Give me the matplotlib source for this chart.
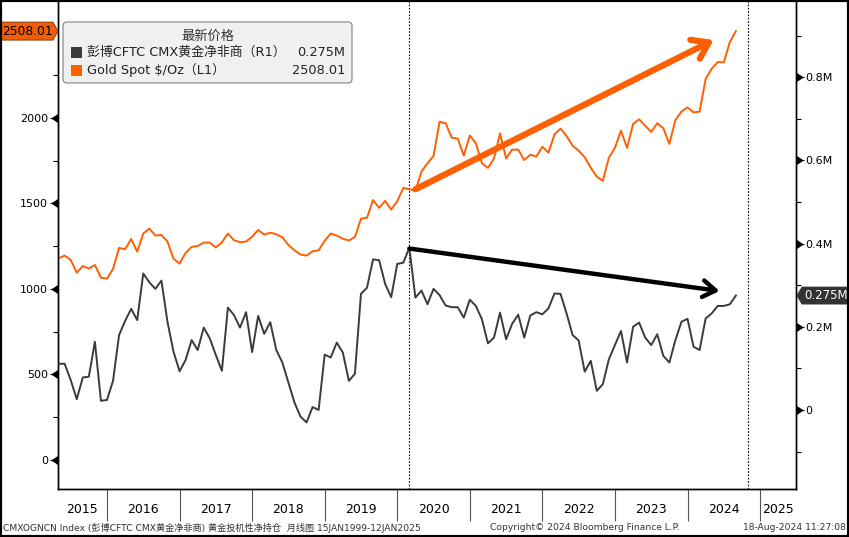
import matplotlib
matplotlib.use("Agg")
import matplotlib.pyplot as plt
import matplotlib.transforms as mtransforms
from matplotlib.patches import FancyBboxPatch, Rectangle, Polygon
from matplotlib.ticker import FixedLocator, FixedFormatter, NullFormatter

W, H = 849, 537
ORANGE = "#ff5f00"
DARK = "#3b3b3b"
CJK = ["DejaVu Sans", "Noto Sans CJK SC"]

# monthly closes, first one is end of Apr 2015, last one Aug 2024
START_YEAR, START_MONTH = 2015, 4

gold_spot = [
    1179, 1195, 1170, 1095, 1134, 1119, 1140, 1066, 1060,
    1117, 1240, 1232, 1292, 1218, 1324, 1353, 1312, 1316, 1277, 1177, 1148,
    1211, 1246, 1251, 1271, 1271, 1242, 1273, 1324, 1285, 1273, 1277, 1306,
    1345, 1318, 1329, 1320, 1302, 1257, 1226, 1201, 1195, 1220, 1226, 1281,
    1324, 1312, 1294, 1283, 1304, 1411, 1417, 1520, 1474, 1515, 1464, 1513,
    1591, 1583, 1575, 1686, 1735, 1778, 1978, 1969, 1885, 1879, 1780, 1897,
    1852, 1735, 1708, 1764, 1910, 1764, 1815, 1815, 1754, 1785, 1774, 1832,
    1797, 1904, 1938, 1895, 1838, 1809, 1770, 1709, 1657, 1632, 1768, 1826,
    1926, 1825, 1965, 1992, 1955, 1918, 1969, 1940, 1848, 1988, 2037, 2062,
    2033, 2037, 2228, 2288, 2327, 2325, 2444, 2508.01,
]

# CFTC CMX gold net non-commercial, million
cftc_net = [
    0.111, 0.111, 0.072, 0.026, 0.078, 0.080, 0.164, 0.022, 0.024,
    0.070, 0.180, 0.214, 0.243, 0.216, 0.328, 0.307, 0.291, 0.311, 0.212, 0.140, 0.093,
    0.120, 0.168, 0.144, 0.198, 0.172, 0.132, 0.094, 0.246, 0.228, 0.198, 0.235, 0.139,
    0.226, 0.183, 0.211, 0.144, 0.114, 0.066, 0.018, -0.016, -0.030, 0.007, 0.000, 0.133,
    0.126, 0.162, 0.138, 0.070, 0.087, 0.279, 0.294, 0.362, 0.360, 0.303, 0.271, 0.351,
    0.354, 0.390, 0.270, 0.287, 0.254, 0.291, 0.276, 0.251, 0.247, 0.247, 0.222, 0.265,
    0.250, 0.218, 0.160, 0.174, 0.234, 0.170, 0.207, 0.229, 0.174, 0.227, 0.235, 0.230,
    0.244, 0.280, 0.279, 0.232, 0.180, 0.167, 0.092, 0.118, 0.046, 0.062, 0.122, 0.156,
    0.190, 0.114, 0.200, 0.210, 0.174, 0.156, 0.182, 0.130, 0.114, 0.168, 0.212, 0.219,
    0.152, 0.144, 0.220, 0.232, 0.250, 0.250, 0.254, 0.275,
]

year_names = [str(y) for y in range(2015, 2026)]
left_ticks = [0, 500, 1000, 1500, 2000]
left_minor = [250, 750, 1250, 1750, 2250]
right_ticks = [0, 0.2, 0.4, 0.6, 0.8]
right_tick_labels = ["0", "0.2M", "0.4M", "0.6M", "0.8M"]
right_minor = [-0.1, 0.1, 0.3, 0.5, 0.7, 0.9]
cycle_marks = [2020 + 2 / 12, 2024 + 10 / 12]
gold_arrow = ((2020.25, 1583), (2024.36, 2456))
cftc_arrow = ((2020 + 2 / 12, 0.388), (2024.44, 0.286))

legend_title = "最新价格"
cftc_name = "彭博CFTC CMX黄金净非商（R1）"
cftc_last = "0.275M"
gold_name = "Gold Spot $/Oz（L1）"
gold_last = "2508.01"
footer_left = "CMXOGNCN Index (彭博CFTC CMX黄金净非商) 黄金投机性净持仓  月线图 15JAN1999-12JAN2025"
footer_mid = "Copyright© 2024 Bloomberg Finance L.P."
footer_right = "18-Aug-2024 11:27:08"

x = [START_YEAR + (START_MONTH + i) / 12 for i in range(len(gold_spot))]

fig = plt.figure(figsize=(W / 100, H / 100), dpi=100)
fig.patch.set_facecolor("white")
ax = fig.add_axes([58 / W, 1 - 489 / H, 738 / W, 488 / H])
ax2 = ax.twinx()

x0, x1 = 2015.325, 2025.495
ax.set_xlim(x0, x1)
ax.set_ylim(-170, 2684)
ax2.set_ylim(-0.190, 0.983)

ax.plot(x, gold_spot, color=ORANGE, lw=1.4, zorder=3)
ax2.plot(x, cftc_net, color=DARK, lw=1.4, zorder=3)

for xm in cycle_marks:
    ax.axvline(xm, color="black", lw=0.8, ls=(0, (1.5, 1.5)), zorder=1)

for a in (ax, ax2):
    a.spines["top"].set_visible(False)
    for s in ("left", "right", "bottom"):
        a.spines[s].set_color("black")
        a.spines[s].set_linewidth(1.0)

# left axis (gold)
ax.set_yticks(left_ticks)
ax.set_yticklabels([str(v) for v in left_ticks])
ax.yaxis.set_minor_locator(FixedLocator(left_minor))
ax.tick_params(axis="y", which="major", length=6, width=0.8, pad=1, labelsize=8)
ax.tick_params(axis="y", which="minor", length=3.5, width=0.8)
lt = mtransforms.blended_transform_factory(ax.transAxes, ax.transData)
ax.plot([-6 / 738] * len(left_ticks), left_ticks, ls="none", marker=4, ms=5.5,
        color="black", transform=lt, clip_on=False)

# right axis (cftc)
ax2.set_yticks(right_ticks)
ax2.set_yticklabels(right_tick_labels)
ax2.yaxis.set_minor_locator(FixedLocator(right_minor))
ax2.tick_params(axis="y", which="major", length=6, width=0.8, pad=1, labelsize=8)
ax2.tick_params(axis="y", which="minor", length=3.5, width=0.8)
rt = mtransforms.blended_transform_factory(ax2.transAxes, ax2.transData)
ax2.plot([1 + 6 / 738] * len(right_ticks), right_ticks, ls="none", marker=5, ms=5.5,
         color="black", transform=rt, clip_on=False)

# year band
seps = list(range(2016, 2026))
mids = [(x0 + 2016) / 2] + [y + 0.5 for y in range(2016, 2025)] + [(2025 + x1) / 2]
ax.xaxis.set_major_locator(FixedLocator(seps))
ax.xaxis.set_major_formatter(NullFormatter())
ax.xaxis.set_minor_locator(FixedLocator(mids))
ax.xaxis.set_minor_formatter(FixedFormatter(year_names))
ax.tick_params(axis="x", which="major", length=23, width=0.8, color="#555555")
ax.tick_params(axis="x", which="minor", length=0, pad=10, labelsize=9)

# trend arrows
ax.annotate("", xy=gold_arrow[1], xytext=gold_arrow[0], zorder=5,
            arrowprops=dict(arrowstyle="->,head_length=0.55,head_width=0.38",
                            mutation_scale=20, lw=4.5, color=ORANGE,
                            shrinkA=0, shrinkB=0))
ax2.annotate("", xy=cftc_arrow[1], xytext=cftc_arrow[0], zorder=5,
             arrowprops=dict(arrowstyle="->,head_length=0.45,head_width=0.3",
                             mutation_scale=20, lw=3.2, color="black",
                             shrinkA=0, shrinkB=0))

# last value tags
ident = mtransforms.IdentityTransform()
gy = ax.transData.transform((x[-1], gold_spot[-1]))[1]
fig.add_artist(Polygon([(1, gy - 9), (53, gy - 9), (58, gy), (53, gy + 9), (1, gy + 9)],
                       closed=True, fc="#f25c05", ec="#7a2e00", lw=0.6, transform=ident))
fig.text(27, gy, gold_last, transform=ident, ha="center", va="center",
         fontsize=8.8, color="black")
cy = ax2.transData.transform((x[-1], cftc_net[-1]))[1]
fig.add_artist(Polygon([(797, cy), (802, cy + 8.5), (849, cy + 8.5), (849, cy - 8.5), (802, cy - 8.5)],
                       closed=True, fc="#333333", ec="#333333", lw=0.6, transform=ident))
fig.text(826, cy, cftc_last, transform=ident, ha="center", va="center",
         fontsize=8.5, color="white")

# legend
fig.add_artist(FancyBboxPatch((63, H - 83), 289, 61, boxstyle="round,pad=0,rounding_size=4",
                              fc="#f0f0f0", ec="#808080", lw=0.8, transform=ident))
fig.text(208, H - 36, legend_title, transform=ident, ha="center", va="center",
         fontsize=9.5, family=CJK, color="#333333")
fig.add_artist(Rectangle((71, H - 58), 11, 11, fc=DARK, ec="none", transform=ident))
fig.add_artist(Rectangle((71, H - 76), 11, 11, fc=ORANGE, ec="none", transform=ident))
fig.text(87, H - 52, cftc_name, transform=ident, ha="left", va="center",
         fontsize=9.3, family=CJK, color="#222222")
fig.text(345, H - 52, cftc_last, transform=ident, ha="right", va="center",
         fontsize=9.3, color="#222222")
fig.text(87, H - 70, gold_name, transform=ident, ha="left", va="center",
         fontsize=9.3, family=CJK, color="#222222")
fig.text(345, H - 70, gold_last, transform=ident, ha="right", va="center",
         fontsize=9.3, color="#222222")

# footer
fig.text(3 / W, 1 - 528 / H, footer_left, ha="left", va="center", fontsize=6.6, family=CJK, color="#333333")
fig.text(585 / W, 1 - 528 / H, footer_mid, ha="center", va="center", fontsize=6.6, color="#333333")
fig.text(846 / W, 1 - 528 / H, footer_right, ha="right", va="center", fontsize=6.6, color="#333333")

# outer frame
fig.add_artist(Rectangle((0, 0), 1, 1, transform=fig.transFigure, fill=False, ec="black", lw=3))

fig.savefig("out.png", dpi=100)
